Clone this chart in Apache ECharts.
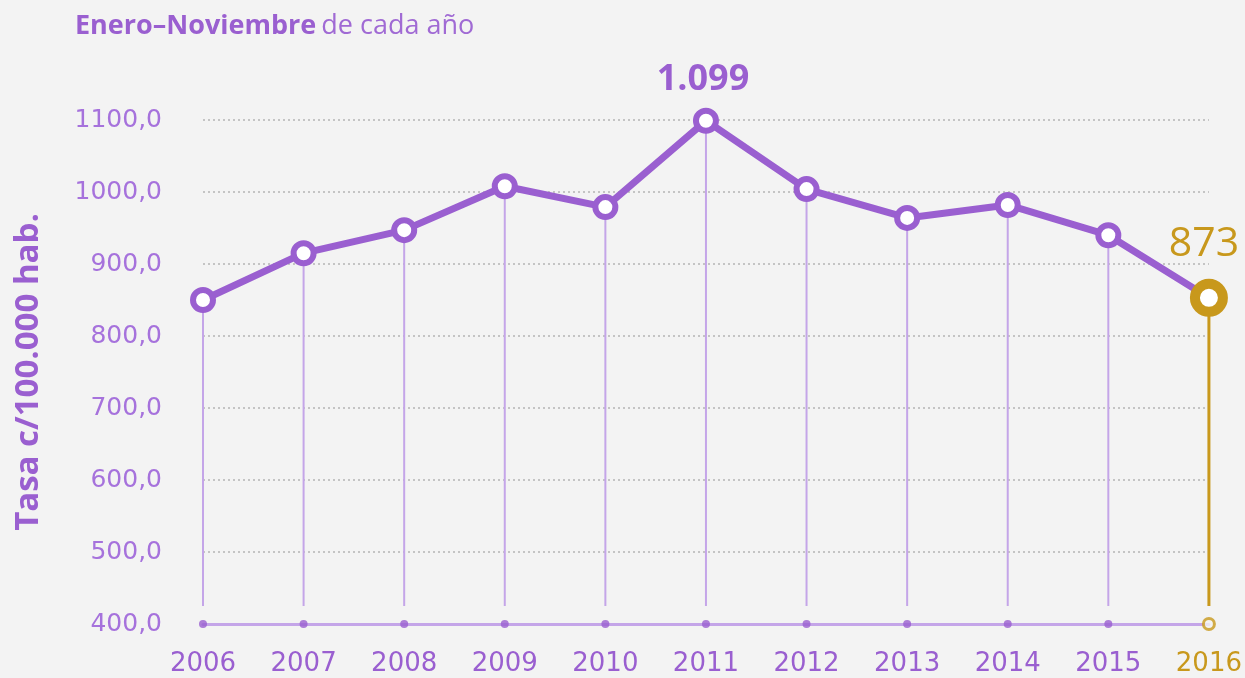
<!DOCTYPE html>
<html>
<head>
<meta charset="utf-8">
<script src="https://cdn.jsdelivr.net/npm/echarts@6/dist/echarts.min.js"></script>
<style>
  html, body { margin: 0; padding: 0; background: #f3f3f3; }
  #chart { width: 1245px; height: 678px; }
</style>
</head>
<body>
<div id="chart"></div>
<script>
const years = ['2006', '2007', '2008', '2009', '2010', '2011', '2012', '2013', '2014', '2015', '2016'];
const rates = [850, 915, 947, 1008, 979, 1099, 1004, 964, 982, 940, 853];
const callouts = { 5: '1.099', 10: '873' };
const yTicks = { min: 400, max: 1100, step: 100 };

const purple = '#9a5fd0';
const lightPurple = '#c4a5e8';
const gold = '#c8981c';
const font = '"Open Sans", "Noto Sans", sans-serif';
const numFont = '"DejaVu Sans", sans-serif';
const last = years.length - 1;

const chart = echarts.init(document.getElementById('chart'));

const lineData = rates.map((v, i) => {
  const item = { value: v };
  if (i === last) {
    item.symbolSize = 28;
    item.itemStyle = { color: '#fff', borderColor: gold, borderWidth: 10 };
    item.label = { show: true, formatter: callouts[i], color: gold, fontSize: 41, fontWeight: 'normal', distance: 14, offset: [-5, 0] };
  } else if (callouts[i]) {
    item.label = { show: true, formatter: callouts[i], color: purple, fontSize: 36, fontWeight: 'bold', distance: 10, offset: [-3, 0] };
  }
  return item;
});

chart.setOption({
  backgroundColor: '#f3f3f3',
  animation: false,
  title: {
    left: 70,
    top: 8,
    text: '{b|Enero–Noviembre} {n|de cada año}',
    textStyle: {
      rich: {
        b: { fontFamily: font, fontSize: 27, fontWeight: 'bold', color: purple },
        n: { fontFamily: font, fontSize: 27, fontWeight: 'normal', color: '#a06ad4' }
      }
    }
  },
  grid: { left: 203, right: 35, top: 120, bottom: 54 },
  xAxis: {
    type: 'category',
    data: years,
    boundaryGap: false,
    axisLine: { lineStyle: { color: lightPurple, width: 3 } },
    axisTick: { show: false },
    axisLabel: {
      margin: 27,
      fontFamily: numFont,
      fontSize: 26,
      color: (v) => (v === years[last] ? gold : purple)
    }
  },
  yAxis: {
    type: 'value',
    min: yTicks.min,
    max: yTicks.max,
    interval: yTicks.step,
    name: 'Tasa c/100.000 hab.',
    nameLocation: 'middle',
    nameGap: 158,
    nameTextStyle: { fontFamily: font, fontSize: 33, fontWeight: 'bold', color: purple },
    axisLine: { show: false },
    axisTick: { show: false },
    axisLabel: {
      margin: 41,
      fontFamily: numFont,
      fontSize: 25,
      color: '#a672dc',
      formatter: (v) => v.toFixed(1).replace('.', ',')
    },
    splitLine: { lineStyle: { color: '#c4c4c4', type: [2, 3], width: 2 } }
  },
  series: [
    {
      type: 'custom',
      z: 1,
      silent: true,
      renderItem: (params, api) => {
        const i = api.value(0);
        const top = api.coord([i, api.value(1)]);
        const bottom = api.coord([i, yTicks.min]);
        const isLast = i === last;
        return {
          type: 'line',
          shape: { x1: top[0], y1: top[1], x2: bottom[0], y2: bottom[1] - 18 },
          style: { stroke: isLast ? gold : lightPurple, lineWidth: isLast ? 3 : 2 }
        };
      },
      data: rates.map((v, i) => [i, v])
    },
    {
      type: 'scatter',
      z: 3,
      silent: true,
      data: years.map((y, i) => (i === last
        ? { value: [i, yTicks.min], symbolSize: 11, itemStyle: { color: '#f3f3f3', borderColor: gold, borderWidth: 3 } }
        : { value: [i, yTicks.min], symbolSize: 8, itemStyle: { color: purple } })),
      clip: false
    },
    {
      type: 'line',
      z: 4,
      data: lineData,
      symbol: 'circle',
      symbolSize: 20,
      lineStyle: { color: purple, width: 7 },
      itemStyle: { color: '#fff', borderColor: purple, borderWidth: 6 },
      label: { position: 'top', fontFamily: font }
    }
  ]
});
</script>
</body>
</html>
